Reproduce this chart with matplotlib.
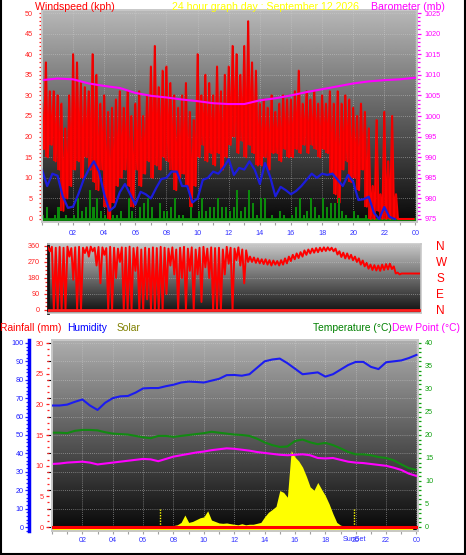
import numpy as np
import matplotlib.pyplot as plt
from matplotlib.lines import Line2D
from matplotlib.ticker import MultipleLocator

plt.rcParams['font.family'] = ['Liberation Sans', 'DejaVu Sans']

ANCHO, ALTO = 466, 555

# Etiquetas de las horas
etiquetas_horas = ['02', '04', '06', '08', '10', '12', '14', '16', '18', '20', '22', '00']

# Viento cada 15 minutos: rachas (máximo y mínimo del intervalo) en kph
racha_max = [28, 38, 31, 31, 30, 28, 22, 30, 40, 38, 33, 32, 31, 40, 35, 28,
             30, 26, 27, 29, 31, 27, 31, 25, 28, 31, 25, 30, 37, 42, 32, 36,
             37, 33, 30, 27, 30, 33, 26, 24, 40, 30, 35, 33, 30, 37, 31, 35,
             37, 42, 40, 35, 42, 48, 38, 36, 28, 29, 27, 30, 26, 28, 30, 29,
             29, 31, 36, 28, 31, 29, 31, 28, 30, 28, 31, 28, 31, 28, 30, 29,
             27, 25, 28, 26, 22, 8, 24, 6, 26, 14, 25, 6, 0, 0, 0, 0]
racha_min = [17, 15, 18, 14, 12, 2, 5, 8, 12, 14, 10, 15, 12, 9, 7, 12,
             3, 0, 4, 8, 10, 12, 8, 3, 12, 8, 11, 14, 10, 13, 12, 15,
             14, 12, 7, 10, 11, 8, 3, 8, 15, 18, 14, 16, 13, 16, 12, 15,
             18, 20, 16, 19, 15, 18, 16, 13, 13, 15, 12, 16, 16, 14, 17, 15,
             15, 17, 16, 18, 16, 18, 17, 15, 17, 16, 11, 6, 4, 12, 14, 9,
             10, 7, 12, 3, 0, 0, 2, 0, 0, 0, 0, 0, 0, 0, 0, 0]
# Viento mínimo (barras verdes) cada 15 minutos
viento_bajo = [1, 3, 0, 1, 3, 0, 1, 0, 1, 5, 2, 3, 7, 3, 5, 2,
               1, 0, 1, 1, 2, 0, 5, 2, 0, 3, 4, 5, 3, 0, 4, 2,
               2, 3, 5, 1, 1, 0, 3, 0, 2, 5, 2, 3, 3, 5, 3, 3,
               2, 3, 7, 2, 3, 7, 4, 1, 5, 5, 0, 1, 0, 2, 1, 0,
               1, 3, 5, 1, 2, 5, 3, 1, 5, 3, 4, 4, 5, 2, 1, 0,
               2, 1, 0, 1, 0, 0, 0, 0, 0, 0, 0, 0, 0, 0, 0, 0]
# Viento medio cada 20 minutos (kph)
viento_medio = [12, 8, 11, 10.5, 5.5, 2.7, 3, 6, 9.5, 12, 14, 11.5,
                6, 2, 3, 6.5, 8.5, 6, 3.5, 6.6, 6, 5, 7.5, 9.7,
                10, 11.5, 11.5, 8, 8, 4, 5, 9.5, 10, 11.5, 11, 12.5,
                14.5, 10.7, 12.4, 12, 14, 12, 8.5, 13.6, 10.2, 5.5, 7.8, 7,
                6, 6.8, 8, 9.5, 11, 10, 11, 10.7, 11, 9.5, 8, 10.7,
                9, 4.6, 4.8, 5.4, 1.5, 0, 2.9, 0.5, 0]
# Barómetro cada hora (mb)
barometro = [1008.7, 1009.1, 1008.9, 1007.9, 1007.3, 1006.8, 1005.6, 1004.9,
             1004.5, 1004.0, 1003.6, 1003.1, 1002.9, 1002.9, 1003.8, 1004.3,
             1005.0, 1005.8, 1006.5, 1007.2, 1007.9, 1008.4, 1008.7, 1008.9, 1009.3]

# Dirección del viento cada 15 minutos (grados)
dir_max = [352, 355, 350, 354, 350, 356, 348, 352, 355, 350, 353, 356,
           350, 354, 352, 348, 355, 350, 345, 352, 350, 356, 348, 352,
           340, 350, 345, 352, 348, 355, 350, 345, 352, 340, 350, 355,
           345, 352, 340, 350, 355, 345, 352, 348, 350, 340, 355, 350,
           345, 352, 340, 335, 300, 295, 290, 285, 285, 280, 278, 275,
           280, 290, 300, 310, 318, 325, 335, 340, 345, 348, 350, 352,
           352, 350, 345, 330, 322, 318, 310, 300, 290, 278, 265, 255,
           252, 250, 255, 258, 260, 245, 210, 205, 205, 205, 205, 205]
dir_min = [330, 0, 0, 0, 0, 300, 170, 0, 0, 320, 300, 330,
           250, 150, 310, 0, 0, 180, 270, 0, 0, 0, 220, 0,
           0, 60, 0, 0, 0, 0, 90, 250, 200, 0, 180, 0,
           220, 0, 200, 45, 240, 180, 0, 0, 0, 200, 260, 0,
           280, 250, 150, 270, 270, 265, 262, 258, 255, 250, 255, 250,
           255, 262, 275, 285, 292, 300, 310, 318, 322, 325, 330, 332,
           335, 330, 312, 298, 290, 288, 280, 270, 255, 245, 232, 225,
           222, 220, 225, 228, 230, 205, 200, 205, 205, 205, 205, 205]

# Panel inferior, cada 30 minutos
humedad = [66, 66, 66.5, 68, 69.3, 66, 63.6, 67.5, 70, 71, 71.2, 73,
           75.3, 75.5, 75.5, 76.5, 77.3, 78.5, 79, 78.8, 78.5, 79.5, 80.5, 82.5,
           82.6, 82.2, 83, 86.5, 90, 91, 91.5, 89, 86, 83, 83.5, 84,
           81.7, 83, 85.5, 88, 89.7, 89.7, 87, 85.8, 89.5, 90, 90.5, 91.8, 93.5]
temperatura = [20.5, 20.5, 20.4, 20.9, 21.1, 21.1, 21.0, 20.6, 20.3, 20.2, 20.1, 19.8,
               19.5, 19.3, 19.8, 19.8, 19.6, 19.8, 20.0, 20.2, 20.4, 20.7, 20.5, 20.3,
               20.1, 20.0, 19.8, 19.2, 18.4, 17.8, 17.4, 17.5, 18.7, 19.0, 18.4, 18.0,
               18.3, 17.8, 17.1, 16.3, 15.8, 15.8, 15.6, 15.2, 15.0, 14.5, 13.6, 12.8, 12.4]
rocio = [13.7, 13.8, 14.0, 14.1, 14.2, 14.0, 13.6, 13.8, 14.0, 14.2, 14.4, 14.6,
         14.8, 14.7, 14.3, 14.8, 15.3, 15.6, 15.9, 16.2, 16.4, 16.7, 16.9, 17.1,
         17.0, 16.8, 16.6, 16.3, 16.1, 15.9, 15.7, 15.6, 15.7, 15.8, 15.6, 15.0,
         14.9, 15.0, 14.6, 14.2, 14.0, 13.9, 13.7, 13.5, 13.3, 12.9, 12.4, 11.6, 11.1]
lluvia = [0.0] * 49
# Radiación solar cada 15 minutos (W/m2)
solar = [0] * 32 + [8, 12, 25, 65, 25, 30, 40, 50, 55, 88, 38, 30,
                    22, 20, 22, 18, 15, 12, 18, 12, 15, 15, 20, 25,
                    55, 80, 95, 112, 198, 188, 162, 415, 380, 358, 325, 275,
                    218, 200, 242, 205, 170, 125, 72, 25, 10, 5, 0, 0] + [0] * 16
amanecer = 7.1
atardecer = 19.9

horas_15 = np.arange(96) / 4.0
horas_20 = np.arange(len(viento_medio)) / 3.0
horas_30 = np.arange(49) / 2.0
horas_1 = np.arange(25)


# Rectángulo en píxeles -> fracción de la figura
def caja(x0, y0, x1, y1):
    return [x0 / ANCHO, 1 - y1 / ALTO, (x1 - x0) / ANCHO, (y1 - y0) / ALTO]


# Fondo degradado de gris claro a negro
def fondo(ax, claro, oscuro):
    grad = np.linspace(claro, oscuro, 256).reshape(-1, 1)
    ax.imshow(grad, extent=(0, 1, 0, 1), transform=ax.transAxes, cmap='gray',
              vmin=0, vmax=1, aspect='auto', zorder=0)


# Línea en zigzag entre máximo y mínimo de cada intervalo
def zigzag(t, alto, bajo, paso):
    x = np.column_stack([t, t + paso / 2]).ravel()
    y = np.column_stack([alto, bajo]).ravel()
    return x, y


def eje_y(ax, color, mayor, menor, largo=2.5, pad=3.0):
    ax.yaxis.set_major_locator(MultipleLocator(mayor))
    ax.yaxis.set_minor_locator(MultipleLocator(menor))
    ax.tick_params(axis='y', which='both', colors=color, labelsize=5.2,
                   pad=pad, width=0.9)
    ax.tick_params(axis='y', which='major', length=largo)
    ax.tick_params(axis='y', which='minor', length=largo * 0.8)


def eje_horas(ax, pad):
    ax.set_xticks(np.arange(2, 25, 2))
    ax.set_xticklabels(etiquetas_horas)
    ax.xaxis.set_minor_locator(MultipleLocator(1))
    ax.tick_params(axis='x', which='both', color='#a0a0a0', labelcolor='#3030ff',
                   labelsize=5.2, length=2.5, pad=pad, width=0.8)


def rejilla(ax, eje='both'):
    ax.grid(True, axis=eje, color='#d0d0d0', ls=(0, (1, 1.5)), lw=0.6, alpha=0.6)


def bordes(ax, color='#c8c8c8'):
    for s in ax.spines.values():
        s.set_color(color)
        s.set_linewidth(1.2)


fig = plt.figure(figsize=(ANCHO / 100, ALTO / 100), dpi=100)
fig.patch.set_facecolor('white')

# ---------------- Panel 1: viento y barómetro ----------------
ax1 = fig.add_axes(caja(42, 10, 417, 222))
fondo(ax1, 0.72, 0.03)
ax1.axhline(0, color='#0a8a0a', lw=2, zorder=2)
ax1.plot(*zigzag(horas_15, racha_max, racha_min, 0.25), color='#ff0000', lw=1.5, zorder=3)
ax1.vlines(horas_15, racha_min, racha_max, color='#ee0000', lw=1.3, zorder=3)
ax1.bar(horas_15 + 0.06, viento_bajo, width=0.13, color='#0b8a0b', zorder=4)
ax1.plot(horas_20, viento_medio, color='#1c1cdc', lw=1.6, zorder=5)
ax1.set_xlim(0, 24.1)
ax1.set_ylim(-0.73, 50.73)
eje_y(ax1, '#ff2020', 5, 1, largo=2.5, pad=4)
eje_horas(ax1, 3)
rejilla(ax1)
bordes(ax1)

ax1b = ax1.twinx()
ax1b.plot(horas_1, barometro, color='#ff00ff', lw=1.5)
ax1b.set_ylim(975 - 0.73, 1025 + 0.73)
eje_y(ax1b, '#ff00ff', 5, 1, largo=3, pad=2.5)
bordes(ax1b)

# ---------------- Panel 2: dirección del viento ----------------
ax2 = fig.add_axes(caja(48, 244, 421, 313))
fondo(ax2, 0.78, 0.06)
ax2.plot(*zigzag(horas_15, dir_max, dir_min, 0.25), color='#ff0000', lw=1.4, zorder=3)
ax2.axhline(0, color='#ff2020', lw=2, zorder=4)
ax2.set_xlim(0, 24)
ax2.set_ylim(-17, 371)
ax2.set_yticks([0, 90, 180, 270, 360])
ax2.yaxis.set_minor_locator(MultipleLocator(22.5))
ax2.tick_params(axis='y', which='both', colors='#ff2020', labelsize=5.2, pad=3, width=0.9)
ax2.tick_params(axis='y', which='major', length=3)
ax2.tick_params(axis='y', which='minor', length=2.2)
ax2.set_xticks([])
rejilla(ax2, 'y')
bordes(ax2)
ax2.spines['left'].set_color('#101010')
ax2.spines['left'].set_linewidth(2)

ax2r = ax2.twinx()
ax2r.set_ylim(-17, 371)
ax2r.set_yticks([360, 270, 180, 90, 0])
ax2r.set_yticklabels(['N', 'W', 'S', 'E', 'N'])
ax2r.tick_params(axis='y', length=0, pad=11, labelsize=8.5, labelcolor='#ff0000')
for s in ax2r.spines.values():
    s.set_visible(False)

# ---------------- Panel 3: temperatura, humedad, lluvia, sol ----------------
ax3 = fig.add_axes(caja(52, 340, 418, 531))
fondo(ax3, 0.68, 0.03)
ax3.fill_between(horas_15, solar, -30, color='#ffff00', lw=0, zorder=2)
ax3.vlines([amanecer, atardecer], 0, 100, colors='#ffff00', linestyles=(0, (1, 1)), lw=1, zorder=2)
ax3.set_xlim(0, 24.1)
ax3.set_ylim(-21.7, 1016)
ax3.set_yticks(np.arange(0, 1001, 100))
ax3.tick_params(axis='y', left=False, labelleft=False)
eje_horas(ax3, 2)
rejilla(ax3)
bordes(ax3)
# "SunSet" encima de la etiqueta de las 20, como en la gráfica original
ax3.text(atardecer, -0.047, 'SunSet', transform=ax3.get_xaxis_transform(),
         ha='center', va='center', fontsize=5.2, color='#3030ff')

ax3t = ax3.twinx()
ax3t.plot(horas_30, temperatura, color='#128a12', lw=1.5)
ax3t.plot(horas_30, rocio, color='#ff00ff', lw=1.5)
ax3t.set_ylim(-0.87, 40.65)
eje_y(ax3t, '#10a010', 5, 1, largo=2.5, pad=2.5)
bordes(ax3t)

ax3h = ax3.twinx()
ax3h.plot(horas_30, humedad, color='#1c1cf0', lw=1.5)
ax3h.set_ylim(-2.17, 101.6)
ax3h.yaxis.tick_left()
for nombre, s in ax3h.spines.items():
    s.set_visible(nombre == 'left')
ax3h.spines['left'].set_position(('outward', 16.5))
ax3h.spines['left'].set_color('#0000ff')
ax3h.spines['left'].set_linewidth(2.5)
eje_y(ax3h, '#2020ff', 10, 2, largo=2.8, pad=1)

ax3r = ax3.twinx()
ax3r.plot(horas_30, lluvia, color='#ff0000', lw=2.2)
ax3r.set_ylim(-0.65, 30.49)
ax3r.yaxis.tick_left()
for s in ax3r.spines.values():
    s.set_visible(False)
ax3r.spines['left'].set_position(('outward', 2))
eje_y(ax3r, '#ff2020', 5, 1, largo=2.2, pad=2)

# ---------------- Textos de cabecera ----------------
base1 = 1 - 9.5 / ALTO
fig.text(35 / ANCHO, base1, 'Windspeed (kph)', color='#ff0000', fontsize=7.6, va='baseline')
fig.text(172 / ANCHO, base1, '24 hour graph day : September 12 2026', color='#ffff00',
         fontsize=7.6, va='baseline')
fig.text(371 / ANCHO, base1, 'Barometer (mb)', color='#ff00ff', fontsize=7.6, va='baseline')

base3 = 1 - 330.7 / ALTO
fig.text(0.5 / ANCHO, base3, 'Rainfall (mm)', color='#ff0000', fontsize=7.4, va='baseline')
fig.text(67 / ANCHO, base3, 'Humidity', color='#0000ff', fontsize=7.4, va='baseline')
fig.text(117 / ANCHO, base3, 'Solar', color='#808000', fontsize=7.4, va='baseline')
fig.text(313 / ANCHO, base3, 'Temperature (°C)', color='#008000', fontsize=7.4, va='baseline')
fig.text(392 / ANCHO, base3, 'Dew Point (°C)', color='#ff00ff', fontsize=7.4, va='baseline')

# Marco negro de la imagen
for xs, ys in [([0.8, 0.8], [0, ALTO]), ([ANCHO - 1, ANCHO - 1], [0, ALTO]),
               ([0, ANCHO], [ALTO - 1, ALTO - 1])]:
    fig.add_artist(Line2D([x / ANCHO for x in xs], [1 - y / ALTO for y in ys],
                          color='black', lw=1.5, transform=fig.transFigure))

fig.savefig('out.png', dpi=100)
